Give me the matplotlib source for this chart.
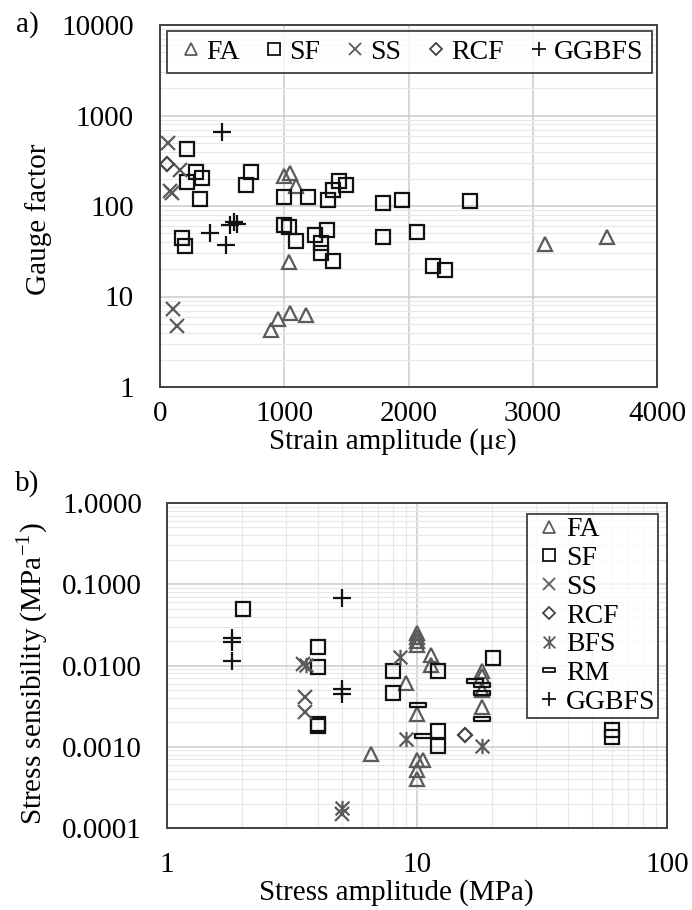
import matplotlib
matplotlib.use("Agg")
import matplotlib.pyplot as plt
from matplotlib.path import Path
from matplotlib.ticker import FixedLocator, FuncFormatter, NullFormatter

plt.rcParams['font.family'] = ['Liberation Serif', 'DejaVu Serif']
plt.rcParams['mathtext.fontset'] = 'stix'

# ---- panel a) gauge factor vs strain amplitude ----
fa_a_x = [1000, 1046, 1094, 1040, 893, 946, 1046, 1175, 3097, 3599]
fa_a_y = [217, 233, 168, 24, 4.3, 5.6, 6.6, 6.2, 38, 45]
sf_a_x = [220, 288, 341, 220, 320, 731, 691, 1000, 1194, 1444, 1497, 1395, 1349,
          1793, 1949, 2492, 2070, 2196, 2296, 175, 202, 1000, 1040, 1094, 1247,
          1344, 1296, 1296, 1390, 1793]
sf_a_y = [430, 235, 206, 182, 120, 235, 170, 127, 127, 188, 170, 150, 117,
          107, 117, 114, 51, 21.5, 19.5, 44, 36, 61, 59, 41, 48,
          54, 39, 30.5, 24.5, 45]
ss_a_x = [65, 161, 80, 100, 105, 140]
ss_a_y = [500, 250, 145, 140, 7.2, 4.7]
rcf_a_x = [59]
rcf_a_y = [291]
ggbfs_a_x = [502, 403, 535, 560, 597, 621]
ggbfs_a_y = [650, 50, 37, 62, 66, 64]

# ---- panel b) stress sensibility vs stress amplitude ----
fa_b_x = [10, 10, 10, 10, 11.4, 11.4, 9.05, 10, 6.55, 10, 10.6, 10, 10,
          18.2, 18.2, 18.2, 18.2]
fa_b_y = [0.025, 0.0225, 0.020, 0.018, 0.0135, 0.0101, 0.0061, 0.0025, 0.00081,
          0.00069, 0.00069, 0.00052, 0.00040, 0.0085, 0.0075, 0.0050, 0.0031]
sf_b_x = [2.02, 4.03, 4.03, 4.03, 4.03, 8.0, 8.0, 12.1, 12.1, 12.1, 20.1, 60, 60]
sf_b_y = [0.049, 0.0168, 0.0097, 0.0019, 0.0018, 0.0086, 0.0046, 0.0086,
          0.00156, 0.00103, 0.0123, 0.0016, 0.0013]
ss_b_x = [3.5, 3.56, 3.56, 5.0]
ss_b_y = [0.0105, 0.0041, 0.0027, 0.00015]
rcf_b_x = [15.6]
rcf_b_y = [0.0014]
bfs_b_x = [3.6, 8.55, 9.0, 18.2, 5.0]
bfs_b_y = [0.0102, 0.0128, 0.00124, 0.00103, 0.000175]
rm_b_x = [10.1, 10.6, 17.1, 18.2, 18.2, 18.2]
rm_b_y = [0.0033, 0.00136, 0.0064, 0.0057, 0.0046, 0.0022]
ggbfs_b_x = [1.82, 1.82, 1.82, 5.0, 5.0, 5.0]
ggbfs_b_y = [0.0216, 0.0196, 0.0115, 0.067, 0.0052, 0.0044]

# marker shapes used by the spreadsheet
asterisk = Path([(0, -1), (0, 1), (-0.9, -0.9), (0.9, 0.9), (-0.9, 0.9), (0.9, -0.9)],
                [Path.MOVETO, Path.LINETO, Path.MOVETO, Path.LINETO, Path.MOVETO, Path.LINETO])
dash = Path([(-1, -0.3), (1, -0.3), (1, 0.3), (-1, 0.3), (-1, -0.3)],
            [Path.MOVETO, Path.LINETO, Path.LINETO, Path.LINETO, Path.CLOSEPOLY])

styles = {
    'FA': dict(marker='^', color='#5a5a5a', ms=9.5),
    'SF': dict(marker='s', color='#111111', ms=9.5),
    'SS': dict(marker='x', color='#5a5a5a', ms=9.5),
    'RCF': dict(marker='D', color='#444444', ms=7.5),
    'BFS': dict(marker=asterisk, color='#5a5a5a', ms=11),
    'RM': dict(marker=dash, color='#111111', ms=11),
    'GGBFS': dict(marker='+', color='#111111', ms=12.5),
}


def draw(ax, name, x, y):
    st = styles[name]
    ax.plot(x, y, linestyle='none', marker=st['marker'], ms=st['ms'],
            mfc='none', mec=st['color'], mew=1.6, label=name)


W, H = 692, 910
fig = plt.figure(figsize=(W / 100, H / 100), dpi=100)


def px_axes(left, top, right, bottom):
    return fig.add_axes([left / W, 1 - bottom / H, (right - left) / W, (bottom - top) / H])


def frame(ax):
    for s in ax.spines.values():
        s.set_color('#404040')
        s.set_linewidth(1.4)
    ax.set_axisbelow(True)
    ax.tick_params(which='both', length=0, labelsize=21)


def style_legend(leg):
    leg.get_frame().set_edgecolor('#111111')
    leg.get_frame().set_linewidth(1.3)
    for h in leg.legend_handles:
        h.set_markersize(h.get_markersize() * 0.85)
        h.set_markeredgewidth(1.3)


# ---------- a) ----------
ax1 = px_axes(160, 25, 657, 387)
draw(ax1, 'FA', fa_a_x, fa_a_y)
draw(ax1, 'SF', sf_a_x, sf_a_y)
draw(ax1, 'SS', ss_a_x, ss_a_y)
draw(ax1, 'RCF', rcf_a_x, rcf_a_y)
draw(ax1, 'GGBFS', ggbfs_a_x, ggbfs_a_y)
ax1.set_yscale('log')
ax1.set_xlim(0, 4000)
ax1.set_ylim(1, 10000)
ax1.xaxis.set_major_locator(FixedLocator([0, 1000, 2000, 3000, 4000]))
ax1.yaxis.set_major_locator(FixedLocator([1, 10, 100, 1000, 10000]))
ax1.yaxis.set_major_formatter(FuncFormatter(lambda v, p: f'{v:g}'))
ax1.yaxis.set_minor_formatter(NullFormatter())
ax1.grid(True, which='major', color='#cccccc', lw=1.1)
ax1.grid(True, which='minor', axis='y', color='#e8e8e8', lw=0.9)
frame(ax1)
ax1.tick_params(axis='y', pad=19)
ax1.tick_params(axis='x', pad=10)
ax1.set_xlabel('Strain amplitude (με)', fontsize=21)
ax1.xaxis.set_label_coords(393 / W, 1 - 442 / H, transform=fig.transFigure)
ax1.xaxis.label.set_va('center')
ax1.set_ylabel('Gauge factor', fontsize=21)
ax1.yaxis.set_label_coords(39 / W, 1 - 219 / H, transform=fig.transFigure)
ax1.yaxis.label.set_va('center')
leg1 = ax1.legend(loc='upper left', ncol=5, mode='expand', fontsize=20,
                  bbox_to_anchor=(167 / W, 1 - 75 / H, 485 / W, 44 / H),
                  bbox_transform=fig.transFigure, frameon=True, fancybox=False,
                  borderpad=0.3, handlelength=1.1, handletextpad=0.0,
                  columnspacing=0.3, borderaxespad=0)
style_legend(leg1)

# ---------- b) ----------
ax2 = px_axes(167, 503, 667, 828)
draw(ax2, 'FA', fa_b_x, fa_b_y)
draw(ax2, 'SF', sf_b_x, sf_b_y)
draw(ax2, 'SS', ss_b_x, ss_b_y)
draw(ax2, 'RCF', rcf_b_x, rcf_b_y)
draw(ax2, 'BFS', bfs_b_x, bfs_b_y)
draw(ax2, 'RM', rm_b_x, rm_b_y)
draw(ax2, 'GGBFS', ggbfs_b_x, ggbfs_b_y)
ax2.set_xscale('log')
ax2.set_yscale('log')
ax2.set_xlim(1, 100)
ax2.set_ylim(0.0001, 1)
ax2.xaxis.set_major_locator(FixedLocator([1, 10, 100]))
ax2.xaxis.set_major_formatter(FuncFormatter(lambda v, p: f'{v:g}'))
ax2.yaxis.set_major_locator(FixedLocator([0.0001, 0.001, 0.01, 0.1, 1]))
ax2.yaxis.set_major_formatter(FuncFormatter(lambda v, p: f'{v:.4f}'))
ax2.xaxis.set_minor_formatter(NullFormatter())
ax2.yaxis.set_minor_formatter(NullFormatter())
ax2.grid(True, which='major', color='#cccccc', lw=1.1)
ax2.grid(True, which='minor', color='#e8e8e8', lw=0.9)
frame(ax2)
ax2.tick_params(axis='y', pad=18)
ax2.tick_params(axis='x', pad=17)
ax2.set_xlabel('Stress amplitude (MPa)', fontsize=21)
ax2.xaxis.set_label_coords(396 / W, 1 - 893 / H, transform=fig.transFigure)
ax2.xaxis.label.set_va('center')
ax2.set_ylabel(r'Stress sensibility (MPa$^{\mathregular{-1}}$)', fontsize=21)
ax2.yaxis.set_label_coords(33 / W, 1 - 674 / H, transform=fig.transFigure)
ax2.yaxis.label.set_va('center')
leg2 = ax2.legend(loc='upper right', ncol=1, fontsize=20,
                  bbox_to_anchor=(658 / W, 1 - 514 / H),
                  bbox_transform=fig.transFigure, frameon=True, fancybox=False,
                  borderpad=0.1, labelspacing=0.12, handlelength=1.4,
                  handletextpad=-0.1, borderaxespad=0)
style_legend(leg2)

fig.text(27 / W, 1 - 25 / H, 'a)', fontsize=21, ha='center', va='center')
fig.text(27 / W, 1 - 484 / H, 'b)', fontsize=21, ha='center', va='center')

fig.savefig('out.png', dpi=100)
